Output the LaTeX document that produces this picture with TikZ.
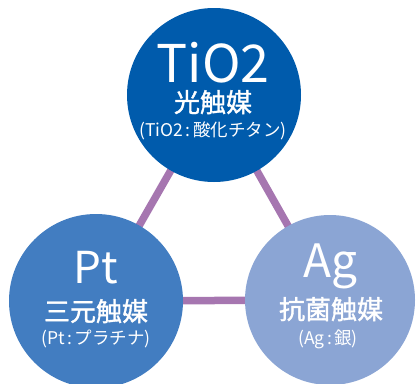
\documentclass[tikz,border=0pt]{standalone}
\usepackage{fontspec}
\setmainfont{Noto Sans CJK JP}
\newfontfamily\kindfont[FakeBold=1.4]{Noto Sans CJK JP}
\usetikzlibrary{backgrounds}

\definecolor{tiblue}{RGB}{0,91,172}
\definecolor{ptblue}{RGB}{66,125,193}
\definecolor{agblue}{RGB}{139,165,212}
\definecolor{linkpurple}{RGB}{166,118,176}

\newcommand{\sep}{\hspace{2.5pt}:\hspace{2.5pt}}

\begin{document}
\begin{tikzpicture}[x=1pt,y=-1pt,
        ball/.style={circle,inner sep=0pt,minimum size=#1},
        link/.style={line width=7.5pt,draw=linkpurple},
        elem/.style={text=white,anchor=base,inner sep=0pt,font=\fontsize{#1}{#1}\selectfont},
        kind/.style={text=white,anchor=base,inner sep=0pt,font=\kindfont\fontsize{26}{26}\selectfont},
        note/.style={text=white,anchor=base,inner sep=0pt,font=\fontsize{17.5}{17.5}\selectfont}]

    \useasboundingbox (0,0) rectangle (417,383);

    \node[ball=174pt,fill=tiblue] (tio2) at (214,95) {};
    \node[ball=174pt,fill=ptblue] (pt) at (96,301) {};
    \node[ball=170pt,fill=agblue] (ag) at (330,300) {};

    \begin{scope}[on background layer]
        \draw[link] (tio2.center) -- (pt.center);
        \draw[link] (tio2.center) -- (ag.center);
        \draw[link] (pt.center) -- (ag.center);
    \end{scope}

    % TiO2
    \node[elem=52] (tio2-name) at (213,82) {TiO2};
    \node[kind] (tio2-kind) at (213,112) {光触媒};
    \node[note] (tio2-note) at (213,136) {(TiO2\sep 酸化チタン)};

    % Pt
    \node[elem=44] (pt-name) at (96,283) {Pt};
    \node[kind] (pt-kind) at (96,321) {三元触媒};
    \node[note] (pt-note) at (96,344) {(Pt\sep プラチナ)};

    % Ag
    \node[elem=46] (ag-name) at (330,277) {Ag};
    \node[kind] (ag-kind) at (331,319) {抗菌触媒};
    \node[note] (ag-note) at (328,344) {(Ag\sep 銀)};

\end{tikzpicture}
\end{document}
